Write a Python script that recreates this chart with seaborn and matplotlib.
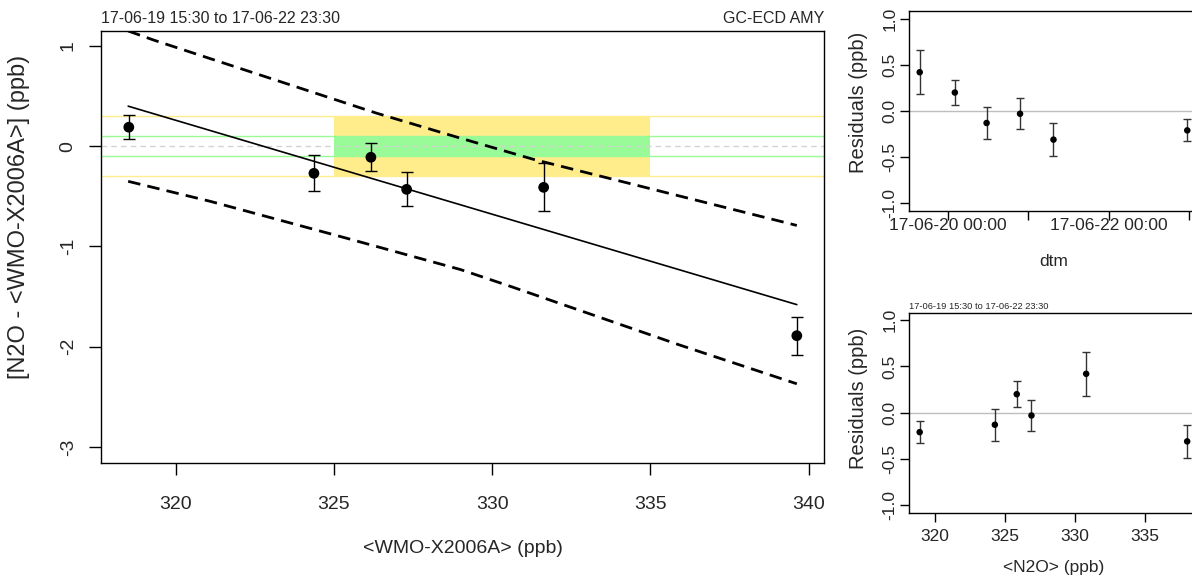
import numpy as np
import pandas as pd
import matplotlib
matplotlib.use("Agg")
import matplotlib.pyplot as plt
import seaborn as sns

# ---------------- data (one entry per sample, in time order) ----------------
dtm = ["2017-06-19 15:30", "2017-06-20 02:00", "2017-06-20 11:30",
       "2017-06-20 21:30", "2017-06-21 07:30", "2017-06-22 23:30"]
wmo_ref = [331.63, 326.17, 324.37, 327.30, 339.63, 318.52]      # <WMO-X2006A> (ppb)
diff = [-0.41, -0.11, -0.27, -0.43, -1.89, 0.19]                # N2O - <WMO-X2006A>
diff_err = [0.24, 0.14, 0.18, 0.17, 0.19, 0.12]
n2o = [330.8, 325.85, 324.29, 326.9, 338.0, 318.93]             # <N2O> (ppb)
resid = [0.42, 0.20, -0.13, -0.03, -0.31, -0.21]                # residuals (ppb)
resid_err = [0.24, 0.14, 0.175, 0.17, 0.18, 0.12]

# fit line and prediction band
fit_x = [318.5, 339.63]
fit_y = [0.40, -1.58]
upper_x = [318.5, 319.3, 326.35, 328.9, 331.3, 339.63]
upper_y = [1.15, 1.06, 0.33, 0.09, -0.13, -0.79]
lower_x = [318.5, 321.1, 325.2, 329.0, 330.6, 335.9, 339.63]
lower_y = [-0.35, -0.55, -0.90, -1.23, -1.40, -1.98, -2.37]

# tolerance zones
tol_outer = 0.3
tol_inner = 0.1
zone_lo, zone_hi = 325.0, 335.0

main_xticks = [320, 325, 330, 335, 340]
main_yticks = [1, 0, -1, -2, -3]
res_yticks = [1.0, 0.5, 0.0, -0.5, -1.0]
res_xticks = [320, 325, 330, 335]
dtm_ticks = ["2017-06-20 00:00", "2017-06-21 00:00", "2017-06-22 00:00", "2017-06-23 00:00"]
dtm_ticklabels = ["17-06-20 00:00", "", "17-06-22 00:00", ""]

period = "17-06-19 15:30 to 17-06-22 23:30"
instrument = "GC-ECD AMY"

# ---------------- style ----------------
sns.set_style("ticks")
plt.rcParams['font.family'] = ['Liberation Sans', 'DejaVu Sans']
plt.rcParams['axes.linewidth'] = 1.0
plt.rcParams['axes.edgecolor'] = 'black'

df = pd.DataFrame({"dtm": pd.to_datetime(dtm), "wmo": wmo_ref, "diff": diff,
                   "diff_err": diff_err, "n2o": n2o, "resid": resid,
                   "resid_err": resid_err})
band_up = pd.DataFrame({"x": upper_x, "y": upper_y})
band_lo = pd.DataFrame({"x": lower_x, "y": lower_y})
fit = pd.DataFrame({"x": fit_x, "y": fit_y})

YELLOW = "#FFEC8B"
GREEN = "#98FB98"

fig = plt.figure(figsize=(11.92, 5.76), dpi=100)
ax = fig.add_axes([0.0847, 0.1962, 0.6066, 0.7500])
ax_t = fig.add_axes([0.7626, 0.6342, 0.2424, 0.3462])
ax_b = fig.add_axes([0.7626, 0.1099, 0.2424, 0.3472])

# ---------------- main panel ----------------
ax.set_xlim(317.64, 340.49)
ax.set_ylim(-3.16, 1.15)
ax.fill_between([zone_lo, zone_hi], -tol_outer, tol_outer, color=YELLOW, lw=0, zorder=1)
ax.fill_between([zone_lo, zone_hi], -tol_inner, tol_inner, color=GREEN, lw=0, zorder=1.1)
for v in (tol_outer, -tol_outer):
    ax.axhline(v, color=YELLOW, lw=1.0, zorder=1.2)
for v in (tol_inner, -tol_inner):
    ax.axhline(v, color=GREEN, lw=1.0, zorder=1.2)
ax.axhline(0, color="#D3D3D3", lw=1.0, ls=(0, (4, 3)), zorder=1.3)

sns.lineplot(data=fit, x="x", y="y", ax=ax, color="black", lw=1.2, zorder=3,
             sort=False, estimator=None)
for b in (band_up, band_lo):
    sns.lineplot(data=b, x="x", y="y", ax=ax, color="black", lw=2.0, zorder=3,
                 sort=False, estimator=None, dashes=False).lines[-1].set_dashes((4.5, 2.6))

ax.errorbar(df["wmo"], df["diff"], yerr=df["diff_err"], fmt="none", ecolor="black",
            elinewidth=1.0, capsize=4.2, capthick=1.0, zorder=4)
sns.scatterplot(data=df, x="wmo", y="diff", ax=ax, color="black", s=60,
                edgecolor="none", zorder=5)

ax.set_xticks(main_xticks)
ax.set_yticks(main_yticks)
ax.set_yticklabels([str(t) for t in main_yticks])
ax.tick_params(axis="both", labelsize=14, length=8.5, width=1.0, color="black")
ax.tick_params(axis="x", pad=15)
ax.tick_params(axis="y", pad=9, labelrotation=90)
for lab in ax.get_yticklabels():
    lab.set_va("center")
ax.set_xlabel("<WMO-X2006A> (ppb)", fontsize=14, labelpad=20)
ax.set_ylabel("")
fig.text(19 / 1192, 1 - 217 / 576, "[N2O - <WMO-X2006A>] (ppb)", rotation=90,
         ha="center", va="center", fontsize=17)
ax.text(0.0, 1.012, period, transform=ax.transAxes, ha="left", va="bottom", fontsize=11.5)
ax.text(1.0, 1.012, instrument, transform=ax.transAxes, ha="right", va="bottom", fontsize=11.5)
for s in ax.spines.values():
    s.set_visible(True)

# ---------------- residuals vs time ----------------
t0 = pd.Timestamp("2017-06-19 12:18")
t1 = pd.Timestamp("2017-06-23 02:42")
ax_t.set_xlim(t0, t1)
ax_t.set_ylim(-1.08, 1.08)
ax_t.axhline(0, color="#BEBEBE", lw=1.0, zorder=1)
ax_t.errorbar(df["dtm"], df["resid"], yerr=df["resid_err"], fmt="none", ecolor="#333333",
              elinewidth=1.0, capsize=2.8, capthick=1.0, zorder=3)
sns.scatterplot(data=df, x="dtm", y="resid", ax=ax_t, color="black", s=22,
                edgecolor="none", zorder=4)
ax_t.set_xticks(pd.to_datetime(dtm_ticks))
ax_t.set_xticklabels(dtm_ticklabels)
ax_t.set_yticks(res_yticks)
ax_t.set_yticklabels([f"{v:.1f}" for v in res_yticks])
ax_t.tick_params(axis="both", labelsize=12.5, length=6.5, width=1.0, color="black")
ax_t.tick_params(axis="x", pad=-1)
ax_t.tick_params(axis="y", pad=2, labelrotation=90)
for lab in ax_t.get_yticklabels():
    lab.set_va("center")
ax_t.set_xlabel("dtm", fontsize=12.5, labelpad=15)
ax_t.set_ylabel("")
fig.text(858 / 1192, 1 - 102 / 576, "Residuals (ppb)", rotation=90, ha="center",
         va="center", fontsize=14.5)

# ---------------- residuals vs N2O ----------------
ax_b.set_xlim(318.17, 338.77)
ax_b.set_ylim(-1.08, 1.08)
ax_b.axhline(0, color="#BEBEBE", lw=1.0, zorder=1)
ax_b.errorbar(df["n2o"], df["resid"], yerr=df["resid_err"], fmt="none", ecolor="#333333",
              elinewidth=1.0, capsize=2.8, capthick=1.0, zorder=3)
sns.scatterplot(data=df, x="n2o", y="resid", ax=ax_b, color="black", s=22,
                edgecolor="none", zorder=4)
ax_b.set_xticks(res_xticks)
ax_b.set_yticks(res_yticks)
ax_b.set_yticklabels([f"{v:.1f}" for v in res_yticks])
ax_b.tick_params(axis="both", labelsize=12.5, length=6.5, width=1.0, color="black")
ax_b.tick_params(axis="x", pad=5)
ax_b.tick_params(axis="y", pad=2, labelrotation=90)
for lab in ax_b.get_yticklabels():
    lab.set_va("center")
ax_b.set_xlabel("<N2O> (ppb)", fontsize=12.5, labelpad=12)
ax_b.set_ylabel("")
fig.text(858 / 1192, 1 - 398 / 576, "Residuals (ppb)", rotation=90, ha="center",
         va="center", fontsize=14.5)
ax_b.text(0.0, 1.01, period, transform=ax_b.transAxes, ha="left", va="bottom", fontsize=6.7)

fig.savefig("out.png", dpi=100)
